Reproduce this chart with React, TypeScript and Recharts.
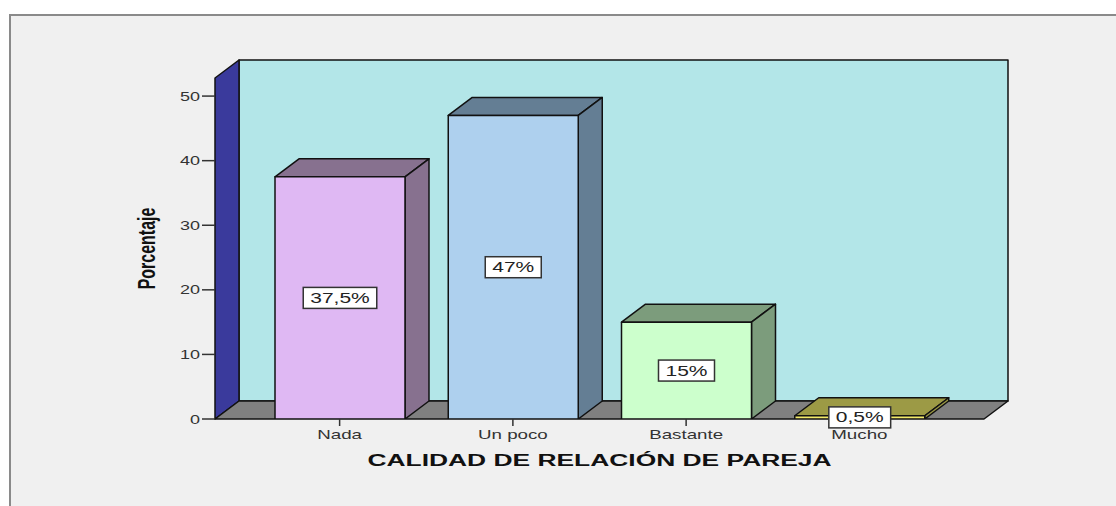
import React from 'react';
import { ComposedChart, Bar, XAxis, YAxis, LabelList, Customized, Label } from 'recharts';

// ---- data ----
const categories = ['Nada', 'Un poco', 'Bastante', 'Mucho'];
const percentages = [37.5, 47, 15, 0.5];
const valueLabels = ['37,5%', '47%', '15%', '0,5%'];
const yTicks = [0, 10, 20, 30, 40, 50];
const Y_MAX = 52.8;
const xTitle = 'CALIDAD DE RELACIÓN DE PAREJA';
const yTitle = 'Porcentaje';

// ---- styles ----
const frontColors = ['#dfb8f3', '#aed0ee', '#ccffcc', '#f2ea6a'];
const sideColors = ['#87718f', '#647e94', '#7c9c7c', '#9c9a45'];
const WALL_BACK = '#b3e6e8';
const WALL_LEFT = '#3a3a9c';
const FLOOR = '#808080';
const FONT = '"Liberation Sans", Arial, sans-serif';

const W = 1116;
const H = 506;
const Y_AXIS_W = 60;
const X_AXIS_H = 30;
const MARGIN = { top: 78, right: 132, bottom: 57, left: 155 };
const DX = 24;
const DY = -18;
const SX = 1.5;

const data = categories.map((name, i) => ({ name, value: percentages[i], label: valueLabels[i], idx: i }));

const PL = MARGIN.left + Y_AXIS_W;
const PR = W - MARGIN.right;
const PT = MARGIN.top;
const PB = H - MARGIN.bottom - X_AXIS_H;

const Walls = () => {
  const s = { stroke: '#111', strokeWidth: 1.5, strokeLinejoin: 'round' as const };
  return (
    <g>
      <rect x={PL + DX} y={PT + DY} width={PR - PL} height={PB - PT} fill={WALL_BACK} {...s} />
      <polygon
        points={`${PL},${PT} ${PL + DX},${PT + DY} ${PL + DX},${PB + DY} ${PL},${PB}`}
        fill={WALL_LEFT}
        {...s}
      />
      <polygon
        points={`${PL},${PB} ${PL + DX},${PB + DY} ${PR + DX},${PB + DY} ${PR},${PB}`}
        fill={FLOOR}
        {...s}
      />
    </g>
  );
};

const Box3D = (props: any) => {
  const { x, y, width, height, payload } = props;
  const i = payload?.idx ?? props.index ?? 0;
  const front = frontColors[i];
  const side = sideColors[i];
  const s = { stroke: '#111', strokeWidth: 1.5, strokeLinejoin: 'round' as const };
  return (
    <g>
      <polygon
        points={`${x},${y} ${x + DX},${y + DY} ${x + width + DX},${y + DY} ${x + width},${y}`}
        fill={side}
        {...s}
      />
      <polygon
        points={`${x + width},${y} ${x + width + DX},${y + DY} ${x + width + DX},${y + height + DY} ${x + width},${y + height}`}
        fill={side}
        {...s}
      />
      <rect x={x} y={y} width={width} height={height} fill={front} {...s} />
    </g>
  );
};

const charW = (c: string) => {
  if (c >= '0' && c <= '9') return 7.78;
  if (c === ',') return 3.89;
  if (c === '%') return 12.45;
  return 7.78;
};

const ValueLabel = (props: any) => {
  const vb = props.viewBox || props;
  const { x, y, width, height } = vb;
  const text = String(props.value);
  const cx = x + width / 2;
  const cy = y + height / 2;
  const tw = text.split('').reduce((a, c) => a + charW(c), 0) * SX;
  const bw = tw + 14;
  const bh = 21;
  return (
    <g>
      <rect x={cx - bw / 2} y={cy - bh / 2} width={bw} height={bh} fill="#ffffff" stroke="#333" strokeWidth={1.5} />
      <text
        transform={`translate(${cx},${cy + 5}) scale(${SX},1)`}
        textAnchor="middle"
        fontFamily={FONT}
        fontSize={14}
        fill="#222"
      >
        {text}
      </text>
    </g>
  );
};

const XTick = (props: any) => {
  const { x, y, payload } = props;
  return (
    <text
      transform={`translate(${x},${y + 11}) scale(${SX},1)`}
      textAnchor="middle"
      fontFamily={FONT}
      fontSize={12.5}
      fill="#333"
    >
      {payload.value}
    </text>
  );
};

const YTick = (props: any) => {
  const { x, y, payload } = props;
  return (
    <text
      transform={`translate(${x},${y + 4.5}) scale(${SX},1)`}
      textAnchor="end"
      fontFamily={FONT}
      fontSize={12}
      fill="#333"
    >
      {payload.value}
    </text>
  );
};

const XTitle = (props: any) => {
  const vb = props.viewBox || {};
  const cx = vb.x + vb.width / 2;
  return (
    <text
      transform={`translate(${cx},${vb.y + 47}) scale(1.65,1)`}
      textAnchor="middle"
      fontFamily={FONT}
      fontSize={16}
      fontWeight="bold"
      fill="#111"
    >
      {xTitle}
    </text>
  );
};

const YTitle = (props: any) => {
  const vb = props.viewBox || {};
  const cy = vb.y + vb.height / 2;
  return (
    <text
      transform={`translate(${vb.x}, ${cy}) scale(${SX},1) rotate(-90)`}
      textAnchor="middle"
      fontFamily={FONT}
      fontSize={16}
      fontWeight="bold"
      fill="#111"
    >
      {yTitle}
    </text>
  );
};

export default function App() {
  return (
    <div style={{ position: 'absolute', left: 0, top: 0, width: W, height: H, background: '#ffffff', overflow: 'hidden' }}>
      <div
        style={{
          position: 'absolute',
          left: 9,
          top: 14,
          width: W + 20,
          height: H + 20,
          background: '#f0f0f0',
          border: '2px solid #8a8a8a',
          boxSizing: 'border-box',
        }}
      />
      <div style={{ position: 'absolute', left: 0, top: 0 }}>
        <ComposedChart width={W} height={H} data={data} margin={MARGIN}>
          <Customized component={Walls} />
          <XAxis
            dataKey="name"
            height={X_AXIS_H}
            padding={{ left: 38, right: 38 }}
            axisLine={false}
            tickSize={7}
            tickLine={{ stroke: '#333', strokeWidth: 1.5 }}
            tick={<XTick />}
            interval={0}
          >
            <Label content={<XTitle />} />
          </XAxis>
          <YAxis
            width={Y_AXIS_W}
            domain={[0, Y_MAX]}
            ticks={yTicks}
            allowDataOverflow
            axisLine={false}
            tickSize={13}
            tickLine={{ stroke: '#333', strokeWidth: 1.5 }}
            tick={<YTick />}
          >
            <Label content={<YTitle />} />
          </YAxis>
          <Bar dataKey="value" barSize={130} shape={Box3D} isAnimationActive={false}>
            <LabelList dataKey="label" content={<ValueLabel />} />
          </Bar>
        </ComposedChart>
      </div>
    </div>
  );
}
